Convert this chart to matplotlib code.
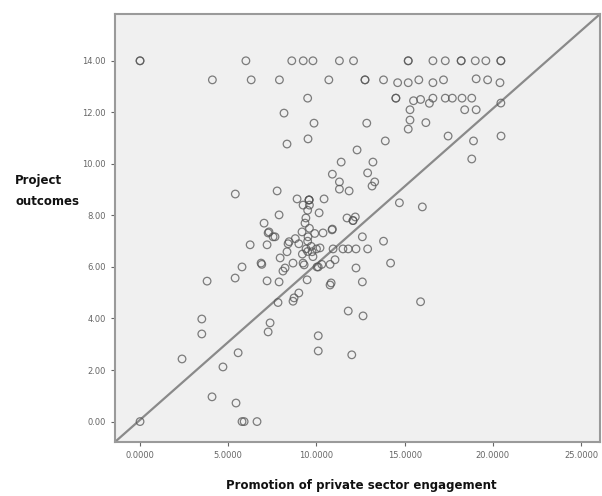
import matplotlib
matplotlib.use("Agg")
import matplotlib.pyplot as plt
import numpy as np

# Promotion of private sector engagement (x) vs Project outcomes (y)
x_vals = [
    # row at 14
    0.0, 0.0, 6.0, 8.6, 9.25, 9.8, 11.3, 12.1, 15.2, 15.2, 16.6, 17.3, 18.2, 18.2, 19.0, 19.6, 20.45, 20.45,
    # row ~13.2
    4.1, 6.3, 7.9, 10.7, 12.75, 12.75, 13.8, 14.6, 15.2, 15.8, 16.6, 17.2, 19.05, 19.7, 20.4,
    # row ~12.5
    9.5, 14.5, 14.5, 15.5, 15.9, 16.4, 16.6, 17.3, 17.7, 18.25, 18.8, 20.45, 15.3, 18.4, 19.05,
    # 10-12
    15.3, 16.2, 15.2, 12.85, 9.86, 8.16, 9.52, 8.33, 13.9, 17.46, 18.9, 20.46, 18.8, 12.3, 13.2, 11.4,
    # 8-10
    12.9, 10.9, 13.3, 13.15, 11.3, 11.3, 11.85, 14.7, 16.0, 5.4, 7.77, 8.9, 9.58, 9.58, 9.58, 10.43,
    7.88, 10.15, 11.73, 12.2, 9.24,
    # 7-8
    12.07, 12.07, 12.6, 13.8, 7.03, 7.31, 7.65, 10.9, 10.37, 10.88, 7.26, 7.54, 9.18, 9.35, 9.52,
    # 6-7
    6.24, 7.2, 8.45, 8.39, 9.41, 9.75, 8.33, 10.2, 10.94, 11.5, 11.8, 12.24, 12.9, 7.94,
    # 5-6.3
    6.86, 5.78, 6.9, 8.67, 9.24, 10.03, 8.22, 8.1, 11.05, 10.77, 10.3, 12.24, 14.2, 9.3, 10.1,
    5.39, 7.2, 7.88, 9.47, 12.6, 10.83, 10.77, 3.8,
    # dense cluster extras
    9.6, 9.5, 9.4, 9.6, 9.5, 9.7, 9.5, 9.2, 9.8, 9.0, 10.0, 8.8, 9.9,
    # 4-5
    8.73, 9.0, 7.82, 8.67, 11.8, 12.64, 15.9,
    # below 4
    7.37, 7.26, 5.56, 4.7, 4.08, 5.44, 5.78, 5.9, 6.63, 10.1, 10.1, 12.0, 3.5, 3.5, 2.38, 0.0,
]
y_vals = [
    14.0, 14.0, 14.0, 14.0, 14.0, 14.0, 14.0, 14.0, 14.0, 14.0, 14.0, 14.0, 14.0, 14.0, 14.0, 14.0, 14.0, 14.0,
    13.26, 13.26, 13.26, 13.26, 13.26, 13.26, 13.26, 13.15, 13.15, 13.26, 13.15, 13.26, 13.3, 13.26, 13.15,
    12.55, 12.55, 12.55, 12.45, 12.5, 12.35, 12.55, 12.55, 12.55, 12.55, 12.55, 12.36, 12.1, 12.1, 12.1,
    11.7, 11.6, 11.35, 11.58, 11.58, 11.97, 10.97, 10.77, 10.89, 11.08, 10.89, 11.08, 10.19, 10.54, 10.07, 10.07,
    9.65, 9.6, 9.3, 9.14, 9.3, 9.02, 8.95, 8.49, 8.33, 8.83, 8.95, 8.64, 8.6, 8.6, 8.6, 8.64,
    8.02, 8.1, 7.9, 7.94, 8.4,
    7.8, 7.8, 7.17, 7.0, 7.7, 7.36, 7.17, 7.47, 7.32, 7.44, 7.32, 7.17, 7.36, 7.7, 7.17,
    6.86, 6.86, 6.98, 6.9, 6.7, 6.59, 6.59, 6.74, 6.7, 6.7, 6.7, 6.7, 6.7, 6.35,
    6.15, 6.0, 6.1, 6.15, 6.15, 6.0, 5.96, 5.84, 6.28, 6.1, 6.1, 5.96, 6.15, 6.08, 6.0,
    5.57, 5.46, 5.42, 5.5, 5.42, 5.38, 5.3, 5.45,
    8.4, 8.2, 7.9, 7.5, 7.0, 6.8, 6.6, 6.5, 6.4, 6.9, 6.7, 7.1, 7.3,
    4.8, 4.99, 4.62, 4.67, 4.29, 4.1, 4.65,
    3.83, 3.48, 2.67, 2.12, 0.96, 0.72, 0.0, 0.0, 0.0, 3.33, 2.74, 2.59, 3.98, 3.4, 2.43, 0.0,
]

x_ticks = [0, 5, 10, 15, 20, 25]
y_ticks = [0, 2, 4, 6, 8, 10, 12, 14]
x_label = "Promotion of private sector engagement"
y_label = "Project\noutcomes"
x_lim = (-1.42, 26.08)
y_lim = (-0.79, 15.82)

fig = plt.figure(figsize=(6.02, 4.96), dpi=100)
ax = fig.add_axes([0.191, 0.109, 0.806, 0.863])
ax.set_facecolor("#f0f0f0")

ax.scatter(x_vals, y_vals, s=30, facecolors="none", edgecolors="#555555",
           linewidths=0.9, alpha=0.75, zorder=3)

# reference line across the plot
ax.plot([x_lim[0], x_lim[1]], [y_lim[0], y_lim[1]], color="#8a8a8a", lw=1.6, zorder=2)

ax.set_xlim(*x_lim)
ax.set_ylim(*y_lim)
ax.set_xticks(x_ticks)
ax.set_xticklabels([f"{v:.4f}" for v in x_ticks])
ax.set_yticks(y_ticks)
ax.set_yticklabels([f"{v:.2f}" for v in y_ticks])
ax.tick_params(axis="both", labelsize=6, colors="#666666", length=3, width=0.8)

for side, sp in ax.spines.items():
    sp.set_color("#9a9a9a")
    sp.set_linewidth(1.5)

fig.text(0.6, 0.022, x_label, ha="center", va="center", fontsize=8.5,
         fontweight="bold", color="#111111")
fig.text(0.025, 0.615, y_label, ha="left", va="center", fontsize=8.5,
         fontweight="bold", color="#111111", linespacing=1.75)

fig.savefig("out.png", dpi=100)
